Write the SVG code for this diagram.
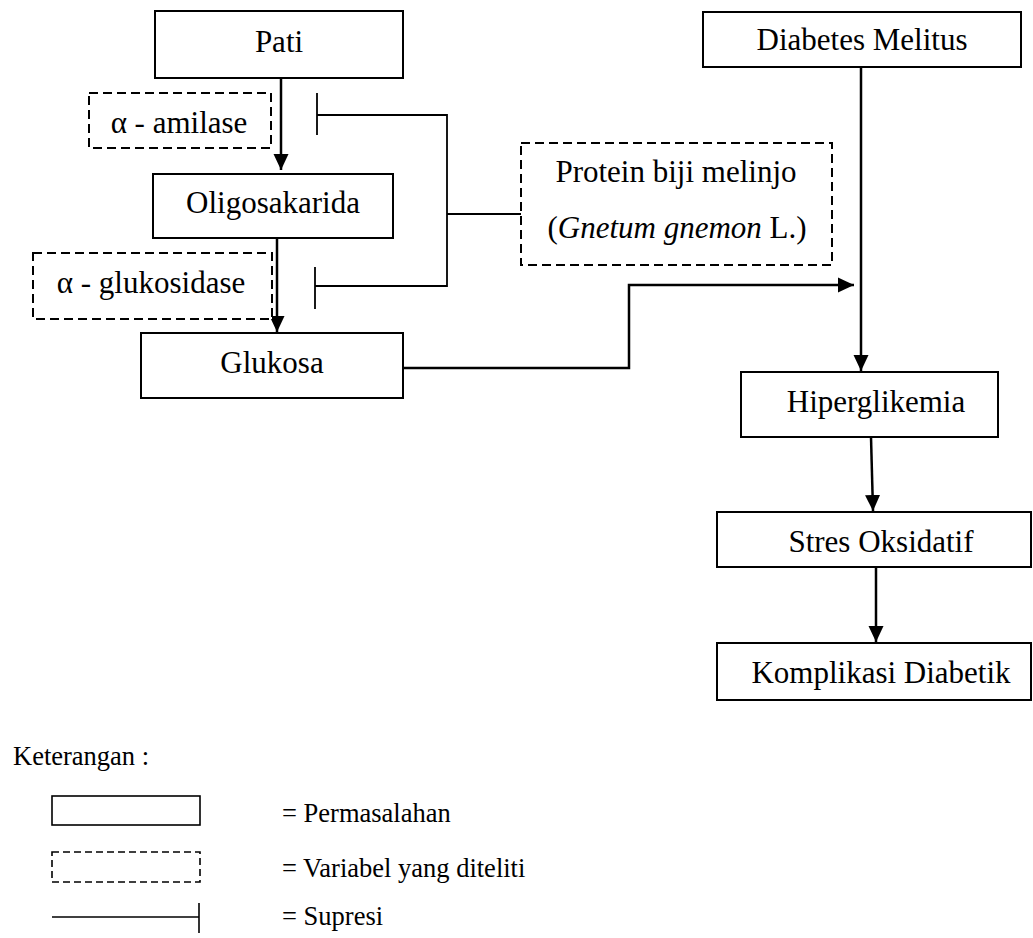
<svg xmlns="http://www.w3.org/2000/svg" width="1033" height="938" viewBox="0 0 1033 938">
<defs>
<style>
.box{fill:#fff;stroke:#000;stroke-width:2}
.dbox{fill:#fff;stroke:#000;stroke-width:2;stroke-dasharray:9 5}
.ldbox{fill:none;stroke:#000;stroke-width:1.6;stroke-dasharray:7 4}
.t{font-family:"Liberation Serif","Times New Roman",serif;font-size:31px;fill:#000;text-anchor:middle}
.lt{font-family:"Liberation Serif","Times New Roman",serif;font-size:26.5px;fill:#000}
.c{fill:none;stroke:#000;stroke-width:2.5}
.s{fill:none;stroke:#000;stroke-width:1.8}
</style>
<marker id="ah" markerUnits="userSpaceOnUse" markerWidth="17" markerHeight="17" viewBox="0 0 17 17" refX="16" refY="8.5" orient="auto">
<path d="M0,1 L16,8.5 L0,16 Z" fill="#000"/>
</marker>
</defs>
<rect width="1033" height="938" fill="#fff"/>

<g id="connectors">
<line class="c" x1="281" y1="78" x2="281" y2="170" marker-end="url(#ah)"/>
<line class="c" x1="277" y1="238" x2="277" y2="332" marker-end="url(#ah)"/>
<polyline class="c" points="403,368 629,368 629,285 854,285" marker-end="url(#ah)"/>
<line class="c" x1="861" y1="67" x2="861" y2="371" marker-end="url(#ah)"/>
<line class="c" x1="871" y1="437" x2="873" y2="511" marker-end="url(#ah)"/>
<line class="c" x1="876" y1="567" x2="876" y2="642" marker-end="url(#ah)"/>
<polyline class="s" points="317,115 447,115 447,286 315,286"/>
<line class="s" x1="317" y1="93" x2="317" y2="135"/>
<line class="s" x1="315" y1="267" x2="315" y2="309"/>
<line class="s" x1="447" y1="214" x2="521" y2="214"/>
</g>

<g id="pati">
<rect class="box" x="155" y="11" width="248" height="67"/>
<text class="t" x="279" y="52">Pati</text>
</g>
<g id="amilase">
<rect class="dbox" x="89" y="93" width="182" height="55"/>
<text class="t" x="179" y="133">α - amilase</text>
</g>
<g id="oligosakarida">
<rect class="box" x="153" y="174" width="240" height="64"/>
<text class="t" x="273" y="213">Oligosakarida</text>
</g>
<g id="glukosidase">
<rect class="dbox" x="33" y="253" width="239" height="66"/>
<text class="t" x="151" y="293">α - glukosidase</text>
</g>
<g id="glukosa">
<rect class="box" x="141" y="333" width="262" height="65"/>
<text class="t" x="272" y="373">Glukosa</text>
</g>
<g id="protein">
<rect class="dbox" x="521" y="143" width="311" height="122"/>
<text class="t" x="676" y="182">Protein biji melinjo</text>
<text class="t" x="677" y="238">(<tspan font-style="italic">Gnetum gnemon</tspan> L.)</text>
</g>
<g id="diabetes">
<rect class="box" x="703" y="12" width="318" height="55"/>
<text class="t" x="862" y="50">Diabetes Melitus</text>
</g>
<g id="hiperglikemia">
<rect class="box" x="741" y="372" width="257" height="65"/>
<text class="t" x="876" y="412">Hiperglikemia</text>
</g>
<g id="stres">
<rect class="box" x="717" y="512" width="314" height="55"/>
<text class="t" x="881" y="552">Stres Oksidatif</text>
</g>
<g id="komplikasi">
<rect class="box" x="717" y="643" width="314" height="57"/>
<text class="t" x="881" y="683">Komplikasi Diabetik</text>
</g>

<g id="legend">
<text class="lt" x="13" y="765">Keterangan :</text>
<rect x="52" y="796" width="148" height="29" fill="none" stroke="#000" stroke-width="1.6"/>
<text class="lt" x="282" y="822">= Permasalahan</text>
<rect class="ldbox" x="52" y="852" width="148" height="30"/>
<text class="lt" x="282" y="877">= Variabel yang diteliti</text>
<line x1="52" y1="917" x2="199" y2="917" stroke="#000" stroke-width="1.6"/>
<line x1="199" y1="903" x2="199" y2="933" stroke="#000" stroke-width="1.6"/>
<text class="lt" x="282" y="925">= Supresi</text>
</g>
</svg>
